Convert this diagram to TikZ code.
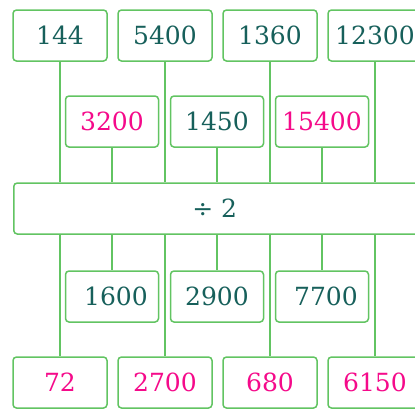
\documentclass[tikz,border=0pt]{standalone}
\usepackage{fontspec}
\setmainfont{DejaVu Serif}
\definecolor{lgreen}{HTML}{62C462}
\definecolor{tealtxt}{HTML}{17605B}
\definecolor{magtxt}{HTML}{F50A8A}
\begin{document}
\begin{tikzpicture}[x=1pt,y=-1pt,
  box/.style={draw=lgreen,line width=1.5pt,rounded corners=3.5pt,fill=white,
    minimum width=94pt,minimum height=51pt,inner sep=0pt,
    font=\fontsize{25}{28}\selectfont,text=tealtxt},
  mbox/.style={box,minimum width=93pt},
  ans/.style={text=magtxt},
  conn/.style={draw=lgreen,line width=1.5pt}]
\useasboundingbox (0,0) rectangle (415,410);
\clip (0,0) rectangle (415,410);
% top row
\node[box] (t1) at (60,35.5) {144};
\node[box] (t2) at (165,35.5) {5400};
\node[box] (t3) at (270,35.5) {1360};
\node[box] (t4) at (375,35.5) {12300};
% middle top
\node[mbox,ans] (m1) at (112,121.5) {3200};
\node[mbox] (m2) at (217,121.5) {1450};
\node[mbox,ans] (m3) at (322,121.5) {15400};
% big box
\node[box,minimum width=405pt,minimum height=51pt,anchor=west] (d) at (13,208.5) {\hspace*{-3pt}÷ 2};
% lower middle
\node[mbox] (l1) at (112,296.5) {\hspace*{8pt}1600};
\node[mbox] (l2) at (217,296.5) {2900};
\node[mbox] (l3) at (322,296.5) {\hspace*{8pt}7700};
% bottom row
\node[box,ans] (b1) at (60,382.5) {72};
\node[box,ans] (b2) at (165,382.5) {2700};
\node[box,ans] (b3) at (270,382.5) {680};
\node[box,ans] (b4) at (375,382.5) {6150};
% connectors
\foreach \n in {t1,t2,t3,t4,m1,m2,m3}{
  \draw[conn] (\n.south) -- (\n.south |- d.north);
}
\foreach \n in {b1,b2,b3,b4,l1,l2,l3}{
  \draw[conn] (\n.north |- d.south) -- (\n.north);
}
\end{tikzpicture}
\end{document}
